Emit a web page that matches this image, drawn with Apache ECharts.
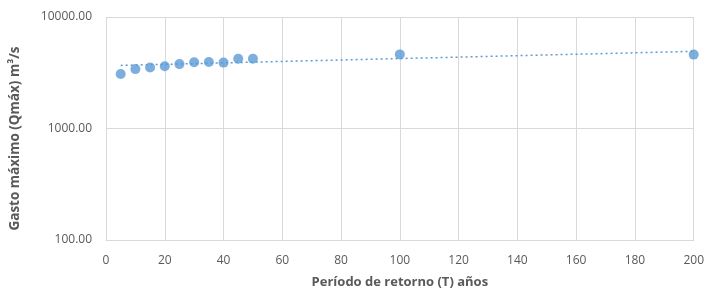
<!DOCTYPE html>
<html>
<head>
<meta charset="utf-8">
<script src="https://cdn.jsdelivr.net/npm/echarts@6/dist/echarts.min.js"></script>
<style>
  html, body { margin: 0; padding: 0; background: #fff; }
  #chart { width: 707px; height: 294px; }
</style>
</head>
<body>
<div id="chart"></div>
<script>
// periodo de retorno (T) y gasto maximo
var periodos = [5, 10, 15, 20, 25, 30, 35, 40, 45, 50, 100, 200];
var gastos = [3080, 3410, 3530, 3620, 3780, 3930, 3950, 3900, 4230, 4220, 4620, 4600];
// linea de tendencia (extremos)
var tendenciaX = [5, 200];
var tendenciaY = [3680, 4920];

var chart = echarts.init(document.getElementById('chart'));

var puntos = periodos.map(function(t, i) { return [t, gastos[i]]; });
var tendencia = tendenciaX.map(function(t, i) { return [t, tendenciaY[i]]; });

var gris = '#595959';

chart.setOption({
  animation: false,
  textStyle: { fontFamily: 'Open Sans' },
  grid: { left: 105, right: 13, top: 17, bottom: 47, containLabel: false },
  xAxis: {
    type: 'value',
    min: 0,
    max: 200,
    interval: 20,
    name: 'Período de retorno (T) años',
    nameLocation: 'middle',
    nameGap: 36,
    nameTextStyle: { color: gris, fontSize: 13, fontWeight: 'bold' },
    axisLine: { show: true, lineStyle: { color: '#d9d9d9' } },
    axisTick: { show: false },
    axisLabel: { color: gris, fontSize: 12, margin: 15 },
    splitLine: { show: true, lineStyle: { color: '#d9d9d9' } }
  },
  yAxis: {
    type: 'log',
    logBase: 10,
    min: 100,
    max: 10000,
    name: 'Gasto máximo (Qmáx) m³/s',
    nameLocation: 'middle',
    nameGap: 84,
    nameTextStyle: { color: gris, fontSize: 13.5, fontWeight: 'bold', padding: [0, 20, 0, 0] },
    axisLine: { show: false },
    axisTick: { show: false },
    axisLabel: {
      color: gris, fontSize: 12, margin: 14,
      formatter: function(v) { return v.toFixed(2); }
    },
    splitLine: { show: true, lineStyle: { color: '#d9d9d9' } }
  },
  series: [
    {
      type: 'line',
      data: tendencia,
      symbol: 'none',
      lineStyle: { color: '#5b9bd5', width: 1.5, type: [2, 3] },
      z: 1
    },
    {
      type: 'scatter',
      data: puntos,
      symbolSize: 10,
      itemStyle: { color: '#5b9bd5' },
      z: 2
    }
  ]
});
</script>
</body>
</html>
